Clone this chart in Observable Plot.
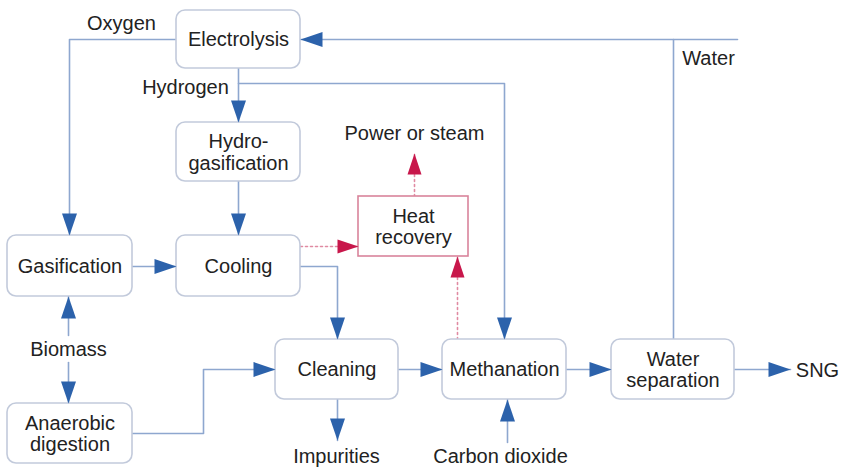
<!DOCTYPE html>
<html>
<head>
<meta charset="utf-8">
<script src="https://cdn.jsdelivr.net/npm/d3@7"></script>
<script src="https://cdn.jsdelivr.net/npm/@observablehq/plot@0.6"></script>
<style>
  html, body { margin: 0; padding: 0; background: #fff; }
  #chart svg { display: block; }
</style>
</head>
<body>
<div id="chart"></div>
<script>
// Process boxes (diagram coordinates)
const boxLabels = ["Electrolysis", "Hydro-\ngasification", "Gasification", "Cooling", "Cleaning", "Anaerobic\ndigestion", "Methanation", "Water\nseparation"];
const boxLeft   = [176, 176,   7, 176, 275,   7, 442, 611];
const boxRight  = [300, 300, 132, 300, 398, 132, 566, 734];
const boxTop    = [ 10, 122, 235, 235, 339, 403, 339, 339];
const boxBottom = [ 68, 181, 296, 296, 399, 463, 399, 399];

// Heat recovery box
const heatLabel = ["Heat\nrecovery"];
const heatBox = [[358, 468, 196, 256]];

// Free labels
const freeLabels = ["Oxygen", "Hydrogen", "Water", "Power or steam", "Biomass", "Impurities", "Carbon dioxide", "SNG"];
const freeX = [121, 185, 708, 414, 68, 336, 500, 817];
const freeY = [ 23,  87,  58, 133, 349, 456, 456, 370];

// Blue flow connectors (polylines)
const flows = [
  [[737, 39], [300, 39]],
  [[673, 39], [673, 339]],
  [[176, 39], [69, 39], [69, 235]],
  [[238, 68], [238, 122]],
  [[238, 83], [504, 83], [504, 339]],
  [[238, 181], [238, 235]],
  [[132, 266], [176, 266]],
  [[300, 266], [337, 266], [337, 339]],
  [[68, 335], [68, 296]],
  [[68, 362], [68, 403]],
  [[132, 433], [203, 433], [203, 369], [275, 369]],
  [[337, 399], [337, 440]],
  [[398, 369], [442, 369]],
  [[507, 442], [507, 399]],
  [[566, 369], [611, 369]],
  [[734, 369], [790, 369]]
];
// Blue arrow heads: tip x, tip y, direction (deg)
const blueTipX = [300,  69, 238, 504, 238, 176, 337,  68,  68, 275, 337, 442, 507, 611, 790];
const blueTipY = [ 39, 235, 122, 339, 235, 266, 339, 296, 403, 369, 440, 369, 399, 369, 369];
const blueDir  = [180,  90,  90,  90,  90,   0,  90, 270,  90,   0,  90,   0, 270,   0,   0];

// Red heat connectors (dotted)
const heatFlows = [
  [[300, 246], [358, 246]],
  [[457, 339], [457, 256]],
  [[414, 196], [414, 153]]
];
const redTipX = [358, 457, 414];
const redTipY = [246, 256, 153];
const redDir  = [0, 270, 270];

// Build tables
const boxes = boxLabels.map((label, i) => ({label, x1: boxLeft[i], x2: boxRight[i], y1: boxTop[i], y2: boxBottom[i]}));
const heat = heatBox.map(([x1, x2, y1, y2], i) => ({label: heatLabel[i], x1, x2, y1, y2}));
const free = freeLabels.map((label, i) => ({label, x: freeX[i], y: freeY[i]}));
const flowPts = flows.flatMap((pts, k) => pts.map(([x, y]) => ({k, x, y})));
const heatPts = heatFlows.flatMap((pts, k) => pts.map(([x, y]) => ({k, x, y})));
const blueTips = blueTipX.map((x, i) => ({x, y: blueTipY[i], r: blueDir[i]}));
const redTips = redTipX.map((x, i) => ({x, y: redTipY[i], r: redDir[i]}));

const headSymbol = (L, W) => ({
  draw(ctx) {
    ctx.moveTo(0, 0);
    ctx.lineTo(-L, -W / 2);
    ctx.lineTo(-L, W / 2);
    ctx.closePath();
  }
});

const font = "'Liberation Sans', Arial, sans-serif";
const textColor = "#222222";
const lineBlue = "#8ea7cf";
const headBlue = "#2c62ab";
const red = "#c8174b";

const chart = Plot.plot({
  width: 841,
  height: 467,
  margin: 0,
  x: {domain: [0, 841], range: [0, 841], axis: null},
  y: {domain: [0, 467], range: [0, 467], axis: null},
  style: {fontFamily: font, background: "#fff"},
  marks: [
    Plot.line(flowPts, {x: "x", y: "y", z: "k", stroke: lineBlue, strokeWidth: 1.6, curve: "linear"}),
    Plot.line(heatPts, {x: "x", y: "y", z: "k", stroke: "#e08aa2", strokeWidth: 1.6, strokeDasharray: "2,3"}),
    Plot.rect(boxes, {x1: "x1", x2: "x2", y1: "y1", y2: "y2", fill: "#fff", stroke: "#c2cadb", strokeWidth: 1.6, rx: 9, ry: 9}),
    Plot.rect(heat, {x1: "x1", x2: "x2", y1: "y1", y2: "y2", fill: "#fff", stroke: "#d9849b", strokeWidth: 1.6}),
    Plot.dot(blueTips, {x: "x", y: "y", rotate: "r", symbol: headSymbol(22, 15), fill: headBlue, stroke: "none", r: 5}),
    Plot.dot(redTips, {x: "x", y: "y", rotate: "r", symbol: headSymbol(21, 14), fill: red, stroke: "none", r: 5}),
    Plot.text(boxes, {x: d => (d.x1 + d.x2) / 2, y: d => (d.y1 + d.y2) / 2, text: "label", fontSize: 20, lineHeight: 1.08, fill: textColor}),
    Plot.text(heat, {x: d => (d.x1 + d.x2) / 2, y: d => (d.y1 + d.y2) / 2, text: "label", fontSize: 20, lineHeight: 1.08, fill: textColor}),
    Plot.text(free, {x: "x", y: "y", text: "label", fontSize: 20, fill: textColor})
  ]
});
document.getElementById("chart").appendChild(chart);
</script>
</body>
</html>
